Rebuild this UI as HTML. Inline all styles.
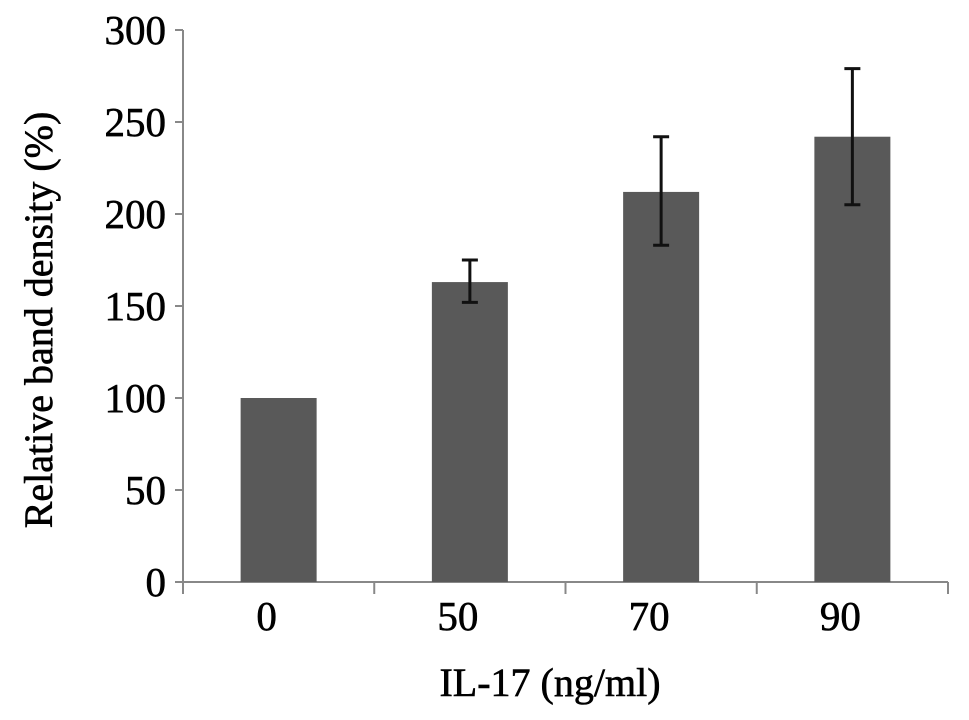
<!DOCTYPE html>
<html><head><meta charset="utf-8"><style>
body{margin:0;background:#fff}
svg text{font-family:"Liberation Serif",serif;fill:#000;stroke:#000;stroke-width:0.6}
</style></head><body>
<svg id="chart" width="969" height="715"></svg>
<script>
const categories=["0","50","70","90"];
const values=[100,163,212,242];
const errHigh=[null,175,242,279];
const errLow=[null,152,183,205];
const yTicks=[0,50,100,150,200,250,300];
const NS="http://www.w3.org/2000/svg";
const svg=document.getElementById('chart');
const x0=183,x1=948,y0=582,yTop=30;
const yScale=v=>y0-(v/300)*(y0-yTop);
const band=(x1-x0)/categories.length;
const xCenter=i=>x0+band*(i+0.5);
function mk(t,a){const e=document.createElementNS(NS,t);for(const k in a)e.setAttribute(k,a[k]);svg.appendChild(e);return e;}
let ax=mk('line',{x1:x0,y1:yTop,x2:x0,y2:y0,stroke:'#888','stroke-width':2});


let bx=mk('line',{x1:x0,y1:y0,x2:x1,y2:y0,stroke:'#888','stroke-width':2});


yTicks.forEach(v=>{
 const y=yScale(v);
 let tk=mk('line',{x1:x0-8,y1:y,x2:x0,y2:y,stroke:'#888','stroke-width':2});
 
 
 let t=mk('text',{x:x0-17,y:y+14,'text-anchor':'end','font-size':41});
 t.textContent=v;
 
 
});
for(let i=0;i<=categories.length;i++){
 const x=x0+band*i;
 let tk=mk('line',{x1:x,y1:y0,x2:x,y2:y0+12,stroke:'#888','stroke-width':2});
 
 
}
categories.forEach((c,i)=>{
 const cx=xCenter(i),bw=76;
 let r=mk('rect',{x:cx-bw/2,y:yScale(values[i]),width:bw,height:y0-yScale(values[i]),fill:'#595959'});
 
 
 if(errHigh[i]!=null){
  const g=mk('g',{stroke:'#111','stroke-width':3});
  
  
  [[cx,yScale(errHigh[i]),cx,yScale(errLow[i])],[cx-8,yScale(errHigh[i]),cx+8,yScale(errHigh[i])],[cx-8,yScale(errLow[i]),cx+8,yScale(errLow[i])]].forEach(p=>{
   const l=document.createElementNS(NS,'line');
   l.setAttribute('x1',p[0]);l.setAttribute('y1',p[1]);l.setAttribute('x2',p[2]);l.setAttribute('y2',p[3]);
   g.appendChild(l);
  });
 }
 let t=mk('text',{x:cx-12,y:630,'text-anchor':'middle','font-size':41});
 t.textContent=c;
 
 
});
let xt=mk('text',{x:550,y:696,'text-anchor':'middle','font-size':40});
xt.textContent='IL-17 (ng/ml)';


let yt=mk('text',{x:0,y:0,'text-anchor':'middle','font-size':40,transform:'translate(52,320) rotate(-90)'});
yt.textContent='Relative band density (%)';


</script>
</body></html>
